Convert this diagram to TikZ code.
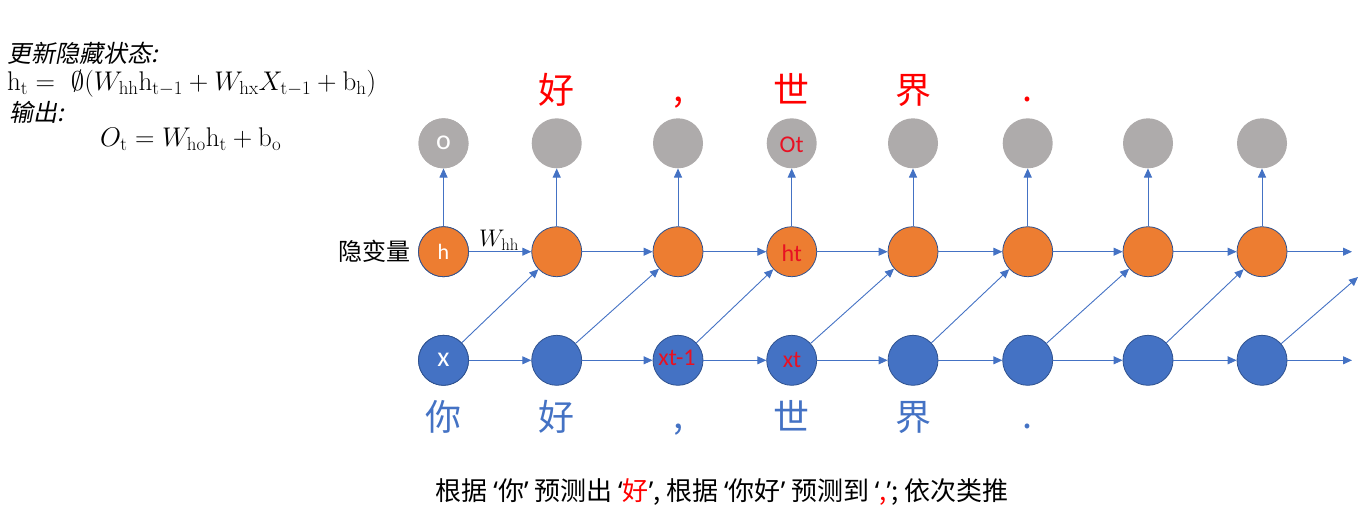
\RequirePackage{fix-cm}
\documentclass[tikz,border=0pt]{standalone}
\usepackage{fontspec}
\usepackage{amsmath}
\usetikzlibrary{arrows.meta}
\newfontfamily\cjk{Noto Sans CJK SC}
\newfontfamily\cjksl[FakeSlant=0.2]{Noto Sans CJK SC}
\newfontfamily\calib{Carlito}
\newfontfamily\latq{Noto Sans}
\newcommand\oq{{\latq ‘}}
\newcommand\cq{{\latq ’}}
\definecolor{orng}{HTML}{ED7D31}
\definecolor{bluef}{HTML}{4472C4}
\definecolor{edgec}{HTML}{2F528F}
\definecolor{grayf}{HTML}{AEABAB}
\definecolor{redt}{HTML}{FF0000}
\definecolor{inkred}{HTML}{E81123}
\tikzset{
  onode/.style={circle, fill=grayf, minimum size=50pt, inner sep=0pt, text=white, font=\calib\fontsize{28}{30}\selectfont},
  hnode/.style={circle, fill=orng, draw=edgec, line width=0.8pt, minimum size=50pt, inner sep=0pt, text=white, font=\calib\fontsize{22}{24}\selectfont},
  xnode/.style={circle, fill=bluef, draw=edgec, line width=0.8pt, minimum size=50pt, inner sep=0pt, text=white, font=\calib\fontsize{28}{30}\selectfont},
  conn/.style={draw=bluef, line width=0.9pt, -{Triangle[length=9pt,width=8pt]}},
  toplab/.style={text=redt, font=\cjk\fontsize{36}{40}\selectfont, anchor=base, inner sep=0pt},
  botlab/.style={text=bluef, font=\cjk\fontsize{36}{40}\selectfont, anchor=base, inner sep=0pt},
  ink/.style={text=inkred, font=\calib\fontsize{24}{26}\selectfont, inner sep=0pt},
  formula/.style={anchor=base west, inner sep=0pt, font=\fontsize{27}{30}\selectfont},
  cjkhead/.style={anchor=west, inner sep=0pt, font=\cjksl\fontsize{24}{28}\selectfont},
}
\begin{document}
\begin{tikzpicture}[x=1pt, y=-1pt]
\useasboundingbox (0,0) rectangle (1372,523);
% columns
\foreach \i/\xx in {1/443.5, 2/556.7, 3/678, 4/791.7, 5/913, 6/1027.7, 7/1148, 8/1262} {
  \node[onode] (o\i) at (\xx,143.3) {};
  \node[hnode] (h\i) at (\xx,251.7) {};
  \node[xnode] (x\i) at (\xx,360.3) {};
}
\node[onode] at (o1) {o};
\node[hnode] at (h1) {h};
\node[xnode] at (x1) {x};
% end coordinates
\coordinate (hend) at (1352,251.7);
\coordinate (xend) at (1352,360.3);
\coordinate (dend) at (1358,277);
% connectors
\foreach \i in {1,...,8} { \draw[conn] (h\i) -- (o\i); }
\foreach \i/\j in {1/2,2/3,3/4,4/5,5/6,6/7,7/8} {
  \draw[conn] (h\i) -- (h\j);
  \draw[conn] (x\i) -- (x\j);
  \draw[conn] (x\i) -- (h\j);
}
\draw[conn] (h8) -- (hend);
\draw[conn] (x8) -- (xend);
\draw[conn] (x8) -- (dend);
% handwritten annotations
\node[ink] (ao) at (791.7,145) {Ot};
\node[ink] (ah) at (791.7,253) {ht};
\node[ink] (ax1) at (677,358) {xt-1};
\node[ink] (ax) at (792,360) {xt};
% W_hh label
\node[inner sep=0pt, font=\fontsize{24}{28}\selectfont] (whh) at (499,240) {$W_{\mathrm{hh}}$};
% hidden label
\node[inner sep=0pt, font=\cjk\fontsize{24}{28}\selectfont, anchor=east] (hid) at (411,251.7) {隐变量};
% top output words
\node[toplab] (t1) at (556.7,103) {好};
\node[toplab] (t2) at (678,101) {,};
\node[toplab] (t3) at (791.7,103) {世};
\node[toplab] (t4) at (913,103) {界};
\node[toplab] (t5) at (1027.7,101) {.};
% bottom input words
\node[botlab] (b1) at (443.5,430) {你};
\node[botlab] (b2) at (556.7,430) {好};
\node[botlab] (b3) at (678,428) {,};
\node[botlab] (b4) at (791.7,430) {世};
\node[botlab] (b5) at (913,430) {界};
\node[botlab] (b6) at (1027.7,428) {.};
% formulas
\node[cjkhead] (l1) at (7,53) {更新隐藏状态:};
\node[formula] (l2) at (7,90) {$\mathrm{h}_{\mathrm{t}} = \ \emptyset(W_{\mathrm{hh}}\mathrm{h}_{\mathrm{t}-1} + W_{\mathrm{hx}}X_{\mathrm{t}-1} + \mathrm{b}_{\mathrm{h}})$};
\node[cjkhead] (l3) at (9,112) {输出:};
\node[formula] (l4) at (100,146) {$O_{\mathrm{t}} = W_{\mathrm{ho}}\mathrm{h}_{\mathrm{t}} + \mathrm{b}_{\mathrm{o}}$};
% caption
\node[inner sep=0pt, font=\cjk\fontsize{26}{30}\selectfont] (cap) at (722,492) {根据 \oq 你\cq{} 预测出 \oq\textcolor{redt}{好}\cq, 根据 \oq 你好\cq{} 预测到 \oq\textcolor{redt}{,}\cq; 依次类推};
\end{tikzpicture}
\end{document}
